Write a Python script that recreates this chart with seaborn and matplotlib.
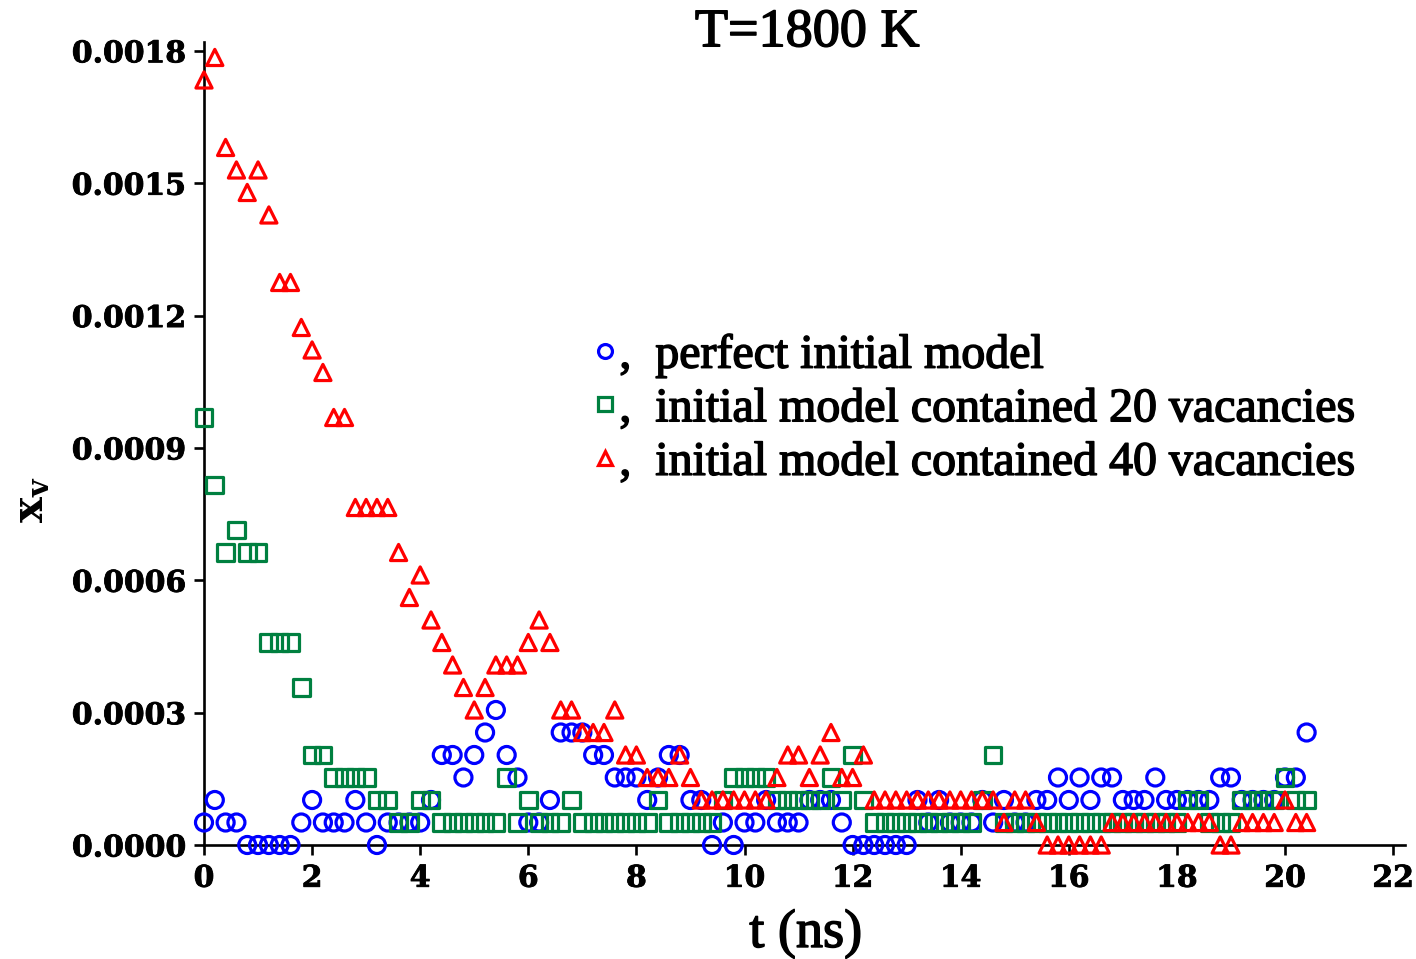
import matplotlib
matplotlib.use("Agg")
import matplotlib.pyplot as plt
import matplotlib.patheffects as pe
import seaborn as sns
import pandas as pd
from matplotlib.lines import Line2D
from matplotlib.ticker import FormatStrFormatter, MultipleLocator

# simulation time (ns)
t_ns = [0.0, 0.2, 0.4, 0.6, 0.8, 1.0, 1.2, 1.4, 1.6, 1.8,
        2.0, 2.2, 2.4, 2.6, 2.8, 3.0, 3.2, 3.4, 3.6, 3.8,
        4.0, 4.2, 4.4, 4.6, 4.8, 5.0, 5.2, 5.4, 5.6, 5.8,
        6.0, 6.2, 6.4, 6.6, 6.8, 7.0, 7.2, 7.4, 7.6, 7.8,
        8.0, 8.2, 8.4, 8.6, 8.8, 9.0, 9.2, 9.4, 9.6, 9.8,
        10.0, 10.2, 10.4, 10.6, 10.8, 11.0, 11.2, 11.4, 11.6, 11.8,
        12.0, 12.2, 12.4, 12.6, 12.8, 13.0, 13.2, 13.4, 13.6, 13.8,
        14.0, 14.2, 14.4, 14.6, 14.8, 15.0, 15.2, 15.4, 15.6, 15.8,
        16.0, 16.2, 16.4, 16.6, 16.8, 17.0, 17.2, 17.4, 17.6, 17.8,
        18.0, 18.2, 18.4, 18.6, 18.8, 19.0, 19.2, 19.4, 19.6, 19.8,
        20.0, 20.2, 20.4]

# vacancy concentration, perfect initial model
xv_perfect = [5.1e-5, 1.02e-4, 5.1e-5, 5.1e-5, 0, 0, 0, 0, 0, 5.1e-5,
              1.02e-4, 5.1e-5, 5.1e-5, 5.1e-5, 1.02e-4, 5.1e-5, 0, 5.1e-5, 5.1e-5, 5.1e-5,
              5.1e-5, 1.02e-4, 2.04e-4, 2.04e-4, 1.53e-4, 2.04e-4, 2.55e-4, 3.06e-4, 2.04e-4, 1.53e-4,
              5.1e-5, 5.1e-5, 1.02e-4, 2.55e-4, 2.55e-4, 2.55e-4, 2.04e-4, 2.04e-4, 1.53e-4, 1.53e-4,
              1.53e-4, 1.02e-4, 1.53e-4, 2.04e-4, 2.04e-4, 1.02e-4, 1.02e-4, 0, 5.1e-5, 0,
              5.1e-5, 5.1e-5, 1.02e-4, 5.1e-5, 5.1e-5, 5.1e-5, 1.02e-4, 1.02e-4, 1.02e-4, 5.1e-5,
              0, 0, 0, 0, 0, 0, 1.02e-4, 5.1e-5, 1.02e-4, 5.1e-5,
              5.1e-5, 5.1e-5, 1.02e-4, 5.1e-5, 1.02e-4, 5.1e-5, 5.1e-5, 1.02e-4, 1.02e-4, 1.53e-4,
              1.02e-4, 1.53e-4, 1.02e-4, 1.53e-4, 1.53e-4, 1.02e-4, 1.02e-4, 1.02e-4, 1.53e-4, 1.02e-4,
              1.02e-4, 1.02e-4, 1.02e-4, 1.02e-4, 1.53e-4, 1.53e-4, 1.02e-4, 1.02e-4, 1.02e-4, 1.02e-4,
              1.53e-4, 1.53e-4, 2.55e-4]

# vacancy concentration, initial model with 20 vacancies
xv_20vac = [9.69e-4, 8.16e-4, 6.63e-4, 7.14e-4, 6.63e-4, 6.63e-4, 4.59e-4, 4.59e-4, 4.59e-4, 3.57e-4,
            2.04e-4, 2.04e-4, 1.53e-4, 1.53e-4, 1.53e-4, 1.53e-4, 1.02e-4, 1.02e-4, 5.1e-5, 5.1e-5,
            1.02e-4, 1.02e-4, 5.1e-5, 5.1e-5, 5.1e-5, 5.1e-5, 5.1e-5, 5.1e-5, 1.53e-4, 5.1e-5,
            1.02e-4, 5.1e-5, 5.1e-5, 5.1e-5, 1.02e-4, 5.1e-5, 5.1e-5, 5.1e-5, 5.1e-5, 5.1e-5,
            5.1e-5, 5.1e-5, 1.02e-4, 5.1e-5, 5.1e-5, 5.1e-5, 5.1e-5, 5.1e-5, 1.02e-4, 1.53e-4,
            1.53e-4, 1.53e-4, 1.53e-4, 1.02e-4, 1.02e-4, 1.02e-4, 1.02e-4, 1.02e-4, 1.53e-4, 1.02e-4,
            2.04e-4, 1.02e-4, 5.1e-5, 5.1e-5, 5.1e-5, 5.1e-5, 5.1e-5, 5.1e-5, 5.1e-5, 5.1e-5,
            5.1e-5, 5.1e-5, 1.02e-4, 2.04e-4, 5.1e-5, 5.1e-5, 5.1e-5, 5.1e-5, 5.1e-5, 5.1e-5,
            5.1e-5, 5.1e-5, 5.1e-5, 5.1e-5, 5.1e-5, 5.1e-5, 5.1e-5, 5.1e-5, 5.1e-5, 5.1e-5,
            5.1e-5, 1.02e-4, 1.02e-4, 5.1e-5, 5.1e-5, 5.1e-5, 1.02e-4, 1.02e-4, 1.02e-4, 1.02e-4,
            1.53e-4, 1.02e-4, 1.02e-4]

# vacancy concentration, initial model with 40 vacancies
xv_40vac = [1.734e-3, 1.785e-3, 1.581e-3, 1.530e-3, 1.479e-3, 1.530e-3, 1.428e-3, 1.275e-3, 1.275e-3, 1.173e-3,
            1.122e-3, 1.071e-3, 9.69e-4, 9.69e-4, 7.65e-4, 7.65e-4, 7.65e-4, 7.65e-4, 6.63e-4, 5.61e-4,
            6.12e-4, 5.10e-4, 4.59e-4, 4.08e-4, 3.57e-4, 3.06e-4, 3.57e-4, 4.08e-4, 4.08e-4, 4.08e-4,
            4.59e-4, 5.10e-4, 4.59e-4, 3.06e-4, 3.06e-4, 2.55e-4, 2.55e-4, 2.55e-4, 3.06e-4, 2.04e-4,
            2.04e-4, 1.53e-4, 1.53e-4, 1.53e-4, 2.04e-4, 1.53e-4, 1.02e-4, 1.02e-4, 1.02e-4, 1.02e-4,
            1.02e-4, 1.02e-4, 1.02e-4, 1.53e-4, 2.04e-4, 2.04e-4, 1.53e-4, 2.04e-4, 2.55e-4, 1.53e-4,
            1.53e-4, 2.04e-4, 1.02e-4, 1.02e-4, 1.02e-4, 1.02e-4, 1.02e-4, 1.02e-4, 1.02e-4, 1.02e-4,
            1.02e-4, 1.02e-4, 1.02e-4, 1.02e-4, 5.1e-5, 1.02e-4, 1.02e-4, 5.1e-5, 0, 0,
            0, 0, 0, 0, 5.1e-5, 5.1e-5, 5.1e-5, 5.1e-5, 5.1e-5, 5.1e-5,
            5.1e-5, 5.1e-5, 5.1e-5, 5.1e-5, 0, 0, 5.1e-5, 5.1e-5, 5.1e-5, 5.1e-5,
            1.02e-4, 5.1e-5, 5.1e-5]

series_names = ["perfect initial model",
                "initial model contained 20 vacancies",
                "initial model contained 40 vacancies"]
series_colors = ["#0000FF", "#008040", "#FF0000"]
series_markers = ["o", "s", "^"]
series_sizes = [150, 145, 135]

df = pd.concat([
    pd.DataFrame({"t": t_ns, "xv": xv_perfect, "model": series_names[0]}),
    pd.DataFrame({"t": t_ns, "xv": xv_20vac, "model": series_names[1]}),
    pd.DataFrame({"t": t_ns, "xv": xv_40vac, "model": series_names[2]}),
], ignore_index=True)

sns.set_style("ticks")
plt.rcParams["font.family"] = ["Liberation Serif", "DejaVu Serif"]
plt.rcParams["mathtext.fontset"] = "dejavuserif"
for key in ("text.color", "axes.labelcolor", "xtick.color", "ytick.color",
            "xtick.labelcolor", "ytick.labelcolor"):
    plt.rcParams[key] = "black"

heavy = [pe.withStroke(linewidth=1.1, foreground="black")]
heavy_ticks = [pe.withStroke(linewidth=0.6, foreground="black")]

W, H = 1416, 959
fig = plt.figure(figsize=(W / 100, H / 100), dpi=100)
x0, x1, y0, y1 = 204, 1405, 845, 42
ax = fig.add_axes([x0 / W, 1 - y0 / H, (x1 - x0) / W, (y0 - y1) / H])

for name, col, mk, sz in zip(series_names, series_colors, series_markers, series_sizes):
    sub = df[df["model"] == name]
    sns.scatterplot(data=sub, x="t", y="xv", ax=ax, marker=mk, s=sz,
                    color=col, facecolor="none", edgecolor=col,
                    linewidth=2.3, clip_on=False, zorder=3, legend=False)

ax.set_xlim(0, 22.22)
ax.set_ylim(0, 0.00182)
ax.xaxis.set_major_locator(MultipleLocator(2))
ax.yaxis.set_major_locator(MultipleLocator(0.0003))
ax.yaxis.set_major_formatter(FormatStrFormatter("%.4f"))

for s in ("top", "right"):
    ax.spines[s].set_visible(False)
for s in ("left", "bottom"):
    ax.spines[s].set_linewidth(1.9)
    ax.spines[s].set_color("black")
    ax.spines[s].set_zorder(2)

ax.tick_params(axis="both", direction="out", length=7.5, width=1.9, color="black")
ax.tick_params(axis="x", pad=6)
ax.tick_params(axis="y", pad=5.5)
for lab in ax.get_xticklabels() + ax.get_yticklabels():
    lab.set_fontfamily("DejaVu Serif")
    lab.set_fontweight("bold")
    lab.set_fontsize(21.5)
    lab.set_path_effects(heavy_ticks)

ax.set_xlabel("t (ns)", fontsize=39, va="top", path_effects=heavy)
ax.xaxis.set_label_coords(0.501, -0.079)
ax.set_ylabel(r"$\mathbf{x_v}$", fontsize=31)
ax.yaxis.set_label_coords(-0.126, 0.43)

fig.text(807 / W, 1 - 33 / H, "T=1800 K", fontsize=39, ha="center", va="center",
         path_effects=heavy)

handles = [Line2D([], [], ls="none", marker=m, ms=10, mfc="none", mec=c, mew=2.3)
           for m, c in zip(series_markers, series_colors)]
labels = [",  " + n for n in series_names]
leg = ax.legend(handles, labels, loc="center left",
                bbox_to_anchor=(593 / W, 1 - 409 / H), bbox_transform=fig.transFigure,
                frameon=False, fontsize=34.5, handlelength=0.5, handletextpad=0.05,
                labelspacing=0.2, borderpad=0, borderaxespad=0)
for txt in leg.get_texts():
    txt.set_path_effects(heavy)

fig.savefig("out.png", dpi=100)
